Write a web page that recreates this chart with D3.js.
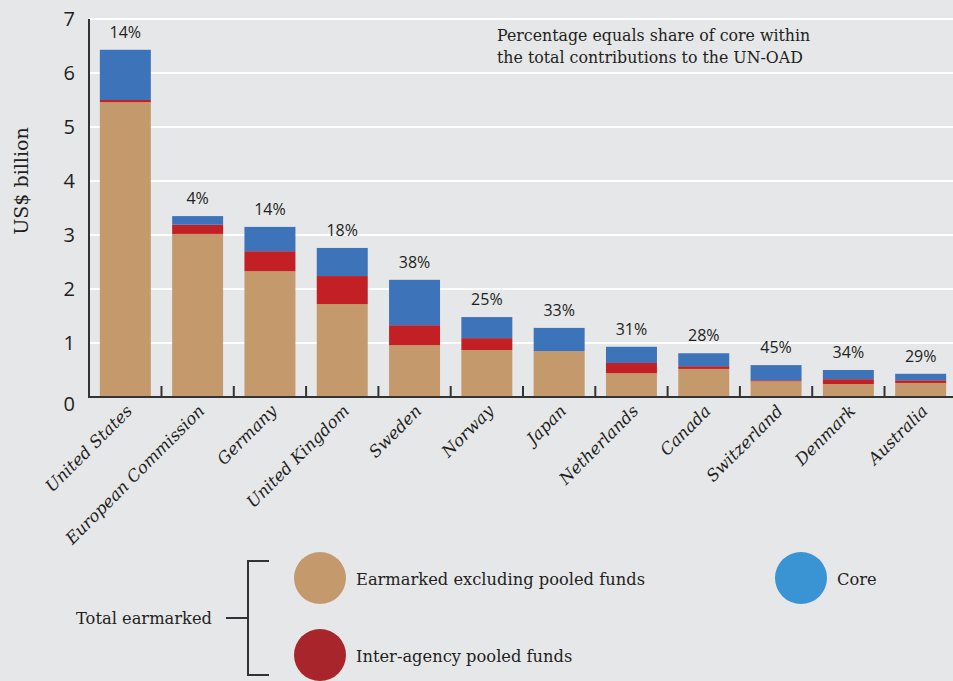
<!DOCTYPE html>
<html>
<head>
<meta charset="utf-8">
<script src="https://cdn.jsdelivr.net/npm/d3@7"></script>
<style>
  body { margin: 0; background: #e6e7e9; }
  svg { display: block; }
</style>
</head>
<body>
<div class="canvas"></div>
<script>
const countries = ['United States', 'European Commission', 'Germany', 'United Kingdom', 'Sweden',
    'Norway', 'Japan', 'Netherlands', 'Canada', 'Switzerland', 'Denmark', 'Australia'];
const earmarkedExPooled = [5.46, 3.02, 2.33, 1.72, 0.96, 0.87, 0.85, 0.44, 0.52, 0.29, 0.24, 0.26];
const pooledFunds       = [0.04, 0.17, 0.37, 0.52, 0.37, 0.22, 0.00, 0.19, 0.05, 0.02, 0.09, 0.05];
const core              = [0.93, 0.16, 0.45, 0.52, 0.84, 0.39, 0.43, 0.30, 0.24, 0.28, 0.17, 0.12];
const coreShare = ['14%', '4%', '14%', '18%', '38%', '25%', '33%', '31%', '28%', '45%', '34%', '29%'];
const yTicks = [0, 1, 2, 3, 4, 5, 6, 7];

const keys = ['earmarked', 'pooled', 'core'];
const barColour = { earmarked: '#c49a6c', pooled: '#c32026', core: '#3c73b9' };

const dims = { width: 953, height: 681 };
const plot = { left: 89, right: 957, top: 19, bottom: 397 };

const svg = d3.select('.canvas')
    .append('svg')
    .attr('width', dims.width)
    .attr('height', dims.height)
;

svg.append('rect')
    .attr('width', dims.width)
    .attr('height', dims.height)
    .attr('fill', '#e6e7e9')
;

const data = countries.map((name, i) => ({
    name,
    earmarked: earmarkedExPooled[i],
    pooled: pooledFunds[i],
    core: core[i],
    share: coreShare[i]
}));

const x = d3.scaleBand()
    .domain(countries)
    .range([plot.left, plot.right])
    .paddingInner(0.295)
    .paddingOuter(0.15)
;

const y = d3.scaleLinear()
    .domain([0, 7])
    .range([plot.bottom, plot.top])
;

// gridlines
svg.append('g')
    .selectAll('line')
    .data(yTicks.filter(d => d > 0))
    .enter()
    .append('line')
        .attr('x1', plot.left)
        .attr('x2', dims.width)
        .attr('y1', d => y(d))
        .attr('y2', d => y(d))
        .attr('stroke', '#fff')
        .attr('stroke-width', 2)
;

// stacked bars
const stack = d3.stack().keys(keys);
const layers = svg.append('g')
    .selectAll('g')
    .data(stack(data))
    .enter()
    .append('g')
        .attr('fill', d => barColour[d.key])
;

layers.selectAll('rect')
    .data(d => d)
    .enter()
    .append('rect')
        .attr('x', d => x(d.data.name))
        .attr('width', x.bandwidth())
        .attr('y', d => y(d[1]))
        .attr('height', d => y(d[0]) - y(d[1]))
;

// share labels
svg.append('g')
    .selectAll('text')
    .data(data)
    .enter()
    .append('text')
        .attr('x', d => x(d.name) + x.bandwidth() / 2)
        .attr('y', d => y(d.earmarked + d.pooled + d.core) - 12)
        .attr('text-anchor', 'middle')
        .attr('font-family', 'Open Sans, sans-serif')
        .attr('font-size', 16)
        .attr('fill', '#231f20')
        .text(d => d.share)
;

// axes
const axisColour = '#333';
svg.append('line')
    .attr('x1', plot.left).attr('x2', plot.left)
    .attr('y1', plot.top).attr('y2', plot.bottom)
    .attr('stroke', axisColour).attr('stroke-width', 2)
;
svg.append('line')
    .attr('x1', plot.left - 1).attr('x2', dims.width)
    .attr('y1', plot.bottom).attr('y2', plot.bottom)
    .attr('stroke', axisColour).attr('stroke-width', 2)
;

const step = x.step();
svg.append('g')
    .selectAll('line')
    .data(countries.slice(1))
    .enter()
    .append('line')
        .attr('x1', d => x(d) - step * x.paddingInner() / 2)
        .attr('x2', d => x(d) - step * x.paddingInner() / 2)
        .attr('y1', plot.bottom - 11)
        .attr('y2', plot.bottom)
        .attr('stroke', axisColour)
        .attr('stroke-width', 2)
;

svg.append('g')
    .selectAll('text')
    .data(yTicks)
    .enter()
    .append('text')
        .attr('x', 75)
        .attr('y', d => y(d) + (d === 0 ? 14 : 7))
        .attr('text-anchor', 'end')
        .attr('font-family', 'Open Sans, sans-serif')
        .attr('font-size', 20)
        .attr('fill', '#231f20')
        .text(d => d)
;

svg.append('text')
    .attr('transform', 'translate(28, 181) rotate(-90)')
    .attr('text-anchor', 'middle')
    .attr('font-family', 'DejaVu Serif, serif')
    .attr('font-size', 19)
    .attr('fill', '#231f20')
    .text('US$ billion')
;

// country labels
svg.append('g')
    .selectAll('text')
    .data(countries)
    .enter()
    .append('text')
        .attr('transform', d => `translate(${x(d) + x.bandwidth() / 2 + 8}, 412) rotate(-45)`)
        .attr('text-anchor', 'end')
        .attr('font-family', 'DejaVu Serif, serif')
        .attr('font-style', 'italic')
        .attr('font-size', 16.5)
        .attr('fill', '#231f20')
        .text(d => d)
;

// note
const note = svg.append('text')
    .attr('font-family', 'DejaVu Serif, serif')
    .attr('font-size', 15.8)
    .attr('fill', '#231f20')
;
note.append('tspan').attr('x', 497).attr('y', 41).text('Percentage equals share of core within');
note.append('tspan').attr('x', 497).attr('y', 63).text('the total contributions to the UN-OAD');

// legend
const legendColour = { earmarked: '#c49a6c', pooled: '#a8262b', core: '#3a93d3' };
const legendItems = [
    { key: 'earmarked', label: 'Earmarked excluding pooled funds', cx: 320, cy: 578 },
    { key: 'pooled', label: 'Inter-agency pooled funds', cx: 320, cy: 655 },
    { key: 'core', label: 'Core', cx: 801, cy: 578 }
];

const legend = svg.append('g');
legend.selectAll('circle')
    .data(legendItems)
    .enter()
    .append('circle')
        .attr('cx', d => d.cx)
        .attr('cy', d => d.cy)
        .attr('r', 26)
        .attr('fill', d => legendColour[d.key])
;
legend.selectAll('text')
    .data(legendItems)
    .enter()
    .append('text')
        .attr('x', d => d.cx + 36)
        .attr('y', d => d.cy + 7)
        .attr('font-family', 'DejaVu Serif, serif')
        .attr('font-size', 16.3)
        .attr('fill', '#231f20')
        .text(d => d.label)
;

legend.append('path')
    .attr('d', 'M269,561 H248 V675 H269 M226,618 H248')
    .attr('fill', 'none')
    .attr('stroke', axisColour)
    .attr('stroke-width', 2)
;
legend.append('text')
    .attr('x', 76)
    .attr('y', 624)
    .attr('font-family', 'DejaVu Serif, serif')
    .attr('font-size', 16.3)
    .attr('fill', '#231f20')
    .text('Total earmarked')
;
</script>
</body>
</html>
